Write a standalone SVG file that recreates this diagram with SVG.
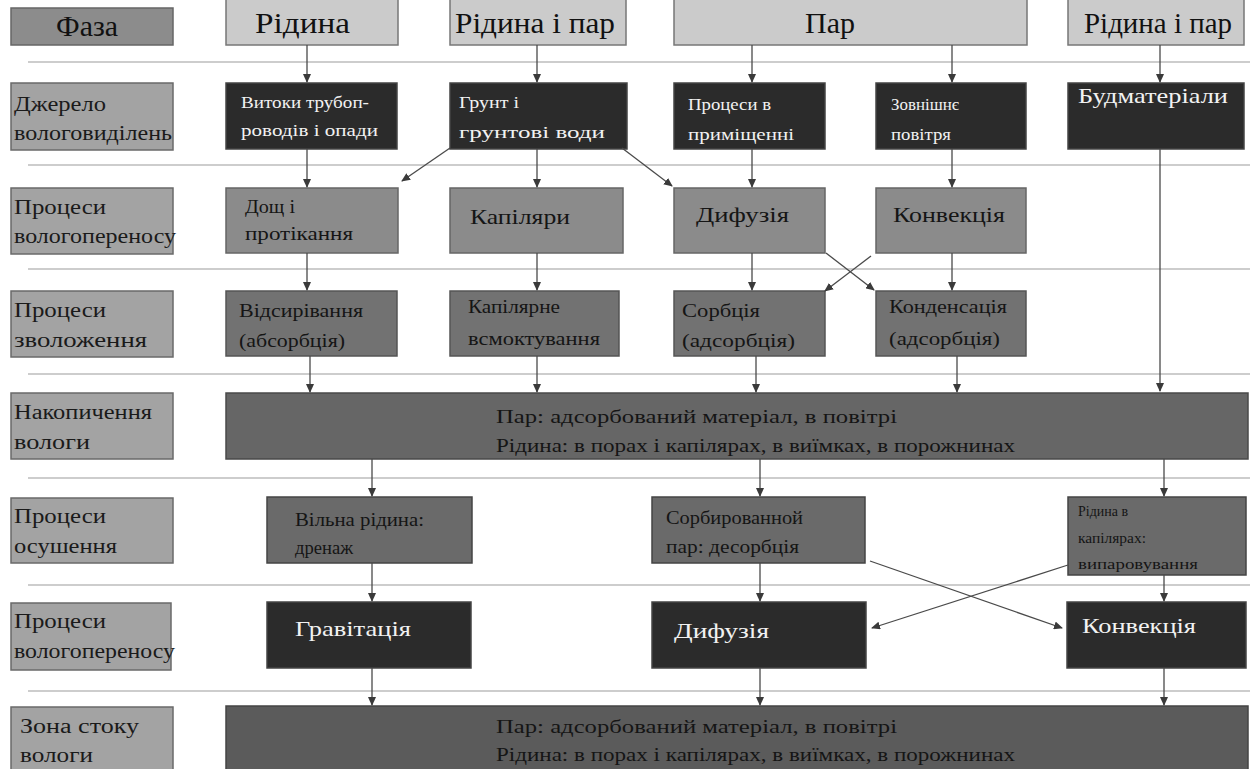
<svg xmlns="http://www.w3.org/2000/svg" width="1258" height="769" viewBox="0 0 1258 769" font-family="'Liberation Serif','Times New Roman',serif">
<defs>
<marker id="ah" markerWidth="9" markerHeight="8" refX="8" refY="4" orient="auto" markerUnits="userSpaceOnUse">
<path d="M0,0 L9,4 L0,8 Z" fill="#3a3a3a"/>
</marker>
<style>
text{font-family:"Liberation Serif","Times New Roman",serif;}
.hdr{fill:#cbcbcb;stroke:#777;stroke-width:1.5}
.phase{fill:#8c8c8c;stroke:#666;stroke-width:1.5}
.lbl{fill:#a3a3a3;stroke:#6a6a6a;stroke-width:1.5}
.blk{fill:#2b2b2b;stroke:#444;stroke-width:1.5}
.g2{fill:#8b8b8b;stroke:#666;stroke-width:1.5}
.g3{fill:#727272;stroke:#555;stroke-width:1.5}
.g4{fill:#666;stroke:#4a4a4a;stroke-width:1.5}
.g5{fill:#6a6a6a;stroke:#444;stroke-width:1.5}
.g7{fill:#5b5b5b;stroke:#444;stroke-width:1.5}
.th{font-size:30px;fill:#111}
.tl{font-size:20px;fill:#1a1a1a}
.tw{fill:#f2f2f2}
.td{fill:#151515}
.sep{stroke:#cdcdcd;stroke-width:2}
.con line{stroke:#4a4a4a;stroke-width:1.3;marker-end:url(#ah)}
</style>
</defs>
<rect width="1258" height="769" fill="#fff"/>
<g id="separators">
<line class="sep" x1="28" y1="62" x2="1250" y2="62"/>
<line class="sep" x1="28" y1="165" x2="1250" y2="165"/>
<line class="sep" x1="28" y1="269" x2="1250" y2="269"/>
<line class="sep" x1="28" y1="374" x2="1250" y2="374"/>
<line class="sep" x1="28" y1="478" x2="1250" y2="478"/>
<line class="sep" x1="28" y1="585" x2="1250" y2="585"/>
<line class="sep" x1="28" y1="691" x2="1250" y2="691"/>
</g>
<g id="h-phase"><rect class="phase" x="11" y="8" width="162" height="37"/><text class="th" x="56" y="36" textLength="62" lengthAdjust="spacingAndGlyphs">Фаза</text></g>
<g id="h-liquid"><rect class="hdr" x="226" y="-1" width="172" height="46"/><text class="th" x="255" y="33" textLength="95" lengthAdjust="spacingAndGlyphs">Рідина</text></g>
<g id="h-liqvap1"><rect class="hdr" x="450" y="-1" width="176" height="46"/><text class="th" x="455" y="33" textLength="160" lengthAdjust="spacingAndGlyphs">Рідина і пар</text></g>
<g id="h-vapour"><rect class="hdr" x="674" y="-1" width="353" height="46"/><text class="th" x="805" y="33" textLength="50" lengthAdjust="spacingAndGlyphs">Пар</text></g>
<g id="h-liqvap2"><rect class="hdr" x="1068" y="-1" width="176" height="46"/><text class="th" x="1084" y="33" textLength="148" lengthAdjust="spacingAndGlyphs">Рідина і пар</text></g>

<g id="l-source"><rect class="lbl" x="11" y="83" width="162" height="67"/><text class="tl" x="14" y="111" textLength="92" lengthAdjust="spacingAndGlyphs">Джерело</text><text class="tl" x="14" y="140" textLength="158" lengthAdjust="spacingAndGlyphs">вологовиділень</text></g>
<g id="l-transfer1"><rect class="lbl" x="11" y="188" width="162" height="66"/><text class="tl" x="14" y="214" textLength="92" lengthAdjust="spacingAndGlyphs">Процеси</text><text class="tl" x="14" y="243" textLength="162" lengthAdjust="spacingAndGlyphs">вологопереносу</text></g>
<g id="l-wetting"><rect class="lbl" x="11" y="291" width="162" height="66"/><text class="tl" x="14" y="317" textLength="92" lengthAdjust="spacingAndGlyphs">Процеси</text><text class="tl" x="14" y="347" textLength="133" lengthAdjust="spacingAndGlyphs">зволоження</text></g>
<g id="l-accum"><rect class="lbl" x="11" y="393" width="162" height="66"/><text class="tl" x="14" y="419" textLength="138" lengthAdjust="spacingAndGlyphs">Накопичення</text><text class="tl" x="14" y="449" textLength="76" lengthAdjust="spacingAndGlyphs">вологи</text></g>
<g id="l-drying"><rect class="lbl" x="11" y="498" width="162" height="65"/><text class="tl" x="14" y="523" textLength="92" lengthAdjust="spacingAndGlyphs">Процеси</text><text class="tl" x="14" y="553" textLength="103" lengthAdjust="spacingAndGlyphs">осушення</text></g>
<g id="l-transfer2"><rect class="lbl" x="11" y="603" width="160" height="67"/><text class="tl" x="14" y="628" textLength="92" lengthAdjust="spacingAndGlyphs">Процеси</text><text class="tl" x="14" y="658" textLength="161" lengthAdjust="spacingAndGlyphs">вологопереносу</text></g>
<g id="l-sink"><rect class="lbl" x="11" y="707" width="162" height="70"/><text class="tl" x="20" y="733" textLength="119" lengthAdjust="spacingAndGlyphs">Зона стоку</text><text class="tl" x="20" y="762" textLength="73" lengthAdjust="spacingAndGlyphs">вологи</text></g>

<g id="n-leaks"><rect class="blk" x="226" y="83" width="171" height="66"/><text class="tw" font-size="17" x="241" y="108" textLength="128" lengthAdjust="spacingAndGlyphs">Витоки трубоп-</text><text class="tw" font-size="17" x="241" y="136" textLength="137" lengthAdjust="spacingAndGlyphs">роводів і опади</text></g>
<g id="n-ground"><rect class="blk" x="450" y="83" width="177" height="66"/><text class="tw" font-size="17" x="459" y="108" textLength="60" lengthAdjust="spacingAndGlyphs">Грунт і</text><text class="tw" font-size="17" x="459" y="138" textLength="146" lengthAdjust="spacingAndGlyphs">грунтові води</text></g>
<g id="n-indoor"><rect class="blk" x="674" y="83" width="151" height="66"/><text class="tw" font-size="17" x="688" y="110" textLength="83" lengthAdjust="spacingAndGlyphs">Процеси в</text><text class="tw" font-size="17" x="688" y="140" textLength="106" lengthAdjust="spacingAndGlyphs">приміщенні</text></g>
<g id="n-outdoor"><rect class="blk" x="876" y="83" width="150" height="66"/><text class="tw" font-size="17" x="891" y="110" textLength="68" lengthAdjust="spacingAndGlyphs">Зовнішнє</text><text class="tw" font-size="17" x="891" y="140" textLength="60" lengthAdjust="spacingAndGlyphs">повітря</text></g>
<g id="n-materials"><rect class="blk" x="1068" y="83" width="176" height="66"/><text class="tw" font-size="21" x="1078" y="103" textLength="150" lengthAdjust="spacingAndGlyphs">Будматеріали</text></g>

<g id="n-rain"><rect class="g2" x="226" y="188" width="172" height="65"/><text class="td" font-size="19" x="245" y="213" textLength="50" lengthAdjust="spacingAndGlyphs">Дощ і</text><text class="td" font-size="19" x="245" y="240" textLength="108" lengthAdjust="spacingAndGlyphs">протікання</text></g>
<g id="n-capillaries"><rect class="g2" x="450" y="188" width="173" height="65"/><text class="td" font-size="22" x="470" y="224" textLength="100" lengthAdjust="spacingAndGlyphs">Капіляри</text></g>
<g id="n-diffusion1"><rect class="g2" x="674" y="188" width="151" height="65"/><text class="td" font-size="22" x="696" y="222" textLength="93" lengthAdjust="spacingAndGlyphs">Дифузія</text></g>
<g id="n-convection1"><rect class="g2" x="876" y="188" width="150" height="65"/><text class="td" font-size="22" x="893" y="222" textLength="112" lengthAdjust="spacingAndGlyphs">Конвекція</text></g>

<g id="n-absorption"><rect class="g3" x="226" y="291" width="171" height="65"/><text class="td" font-size="18" x="239" y="317" textLength="124" lengthAdjust="spacingAndGlyphs">Відсирівання</text><text class="td" font-size="18" x="239" y="347" textLength="106" lengthAdjust="spacingAndGlyphs">(абсорбція)</text></g>
<g id="n-suction"><rect class="g3" x="450" y="291" width="169" height="65"/><text class="td" font-size="18" x="468" y="313" textLength="92" lengthAdjust="spacingAndGlyphs">Капілярне</text><text class="td" font-size="18" x="468" y="345" textLength="132" lengthAdjust="spacingAndGlyphs">всмоктування</text></g>
<g id="n-sorption"><rect class="g3" x="674" y="291" width="151" height="65"/><text class="td" font-size="18" x="682" y="317" textLength="78" lengthAdjust="spacingAndGlyphs">Сорбція</text><text class="td" font-size="18" x="682" y="347" textLength="113" lengthAdjust="spacingAndGlyphs">(адсорбція)</text></g>
<g id="n-condensation"><rect class="g3" x="876" y="291" width="150" height="65"/><text class="td" font-size="18" x="889" y="313" textLength="118" lengthAdjust="spacingAndGlyphs">Конденсація</text><text class="td" font-size="18" x="889" y="345" textLength="111" lengthAdjust="spacingAndGlyphs">(адсорбція)</text></g>

<g id="n-accumulation"><rect class="g4" x="226" y="393" width="1022" height="66"/><text class="td" font-size="18" x="496" y="423" textLength="401" lengthAdjust="spacingAndGlyphs">Пар: адсорбований матеріал, в повітрі</text><text class="td" font-size="18" x="496" y="452" textLength="519" lengthAdjust="spacingAndGlyphs">Рідина: в порах і капілярах, в виїмках, в порожнинах</text></g>

<g id="n-drainage"><rect class="g5" x="267" y="497" width="205" height="66"/><text class="td" font-size="18" x="295" y="526" textLength="129" lengthAdjust="spacingAndGlyphs">Вільна рідина:</text><text class="td" font-size="18" x="295" y="554" textLength="58" lengthAdjust="spacingAndGlyphs">дренаж</text></g>
<g id="n-desorption"><rect class="g5" x="652" y="497" width="213" height="66"/><text class="td" font-size="18" x="666" y="524" textLength="137" lengthAdjust="spacingAndGlyphs">Сорбированной</text><text class="td" font-size="18" x="666" y="553" textLength="133" lengthAdjust="spacingAndGlyphs">пар: десорбція</text></g>
<g id="n-evaporation"><rect class="g5" x="1068" y="497" width="178" height="78"/><text class="td" font-size="14" x="1078" y="516" textLength="50" lengthAdjust="spacingAndGlyphs">Рідина в</text><text class="td" font-size="14" x="1078" y="543" textLength="68" lengthAdjust="spacingAndGlyphs">капілярах:</text><text class="td" font-size="14" x="1078" y="569" textLength="120" lengthAdjust="spacingAndGlyphs">випаровування</text></g>

<g id="n-gravity"><rect class="blk" x="267" y="602" width="204" height="66"/><text class="tw" font-size="22" x="295" y="636" textLength="116" lengthAdjust="spacingAndGlyphs">Гравітація</text></g>
<g id="n-diffusion2"><rect class="blk" x="652" y="602" width="214" height="66"/><text class="tw" font-size="22" x="674" y="638" textLength="95" lengthAdjust="spacingAndGlyphs">Дифузія</text></g>
<g id="n-convection2"><rect class="blk" x="1067" y="602" width="179" height="66"/><text class="tw" font-size="22" x="1082" y="633" textLength="114" lengthAdjust="spacingAndGlyphs">Конвекція</text></g>

<g id="n-sink"><rect class="g7" x="226" y="706" width="1022" height="70"/><text class="td" font-size="18" x="496" y="733" textLength="401" lengthAdjust="spacingAndGlyphs">Пар: адсорбований матеріал, в повітрі</text><text class="td" font-size="18" x="496" y="761" textLength="519" lengthAdjust="spacingAndGlyphs">Рідина: в порах і капілярах, в виїмках, в порожнинах</text></g>

<g id="connectors" class="con">
<line x1="307" y1="45" x2="307" y2="82"/>
<line x1="537" y1="45" x2="537" y2="82"/>
<line x1="752" y1="45" x2="752" y2="82"/>
<line x1="952" y1="45" x2="952" y2="82"/>
<line x1="1160" y1="45" x2="1160" y2="82"/>
<line x1="307" y1="149" x2="307" y2="187"/>
<line x1="450" y1="148" x2="402" y2="181"/>
<line x1="537" y1="149" x2="537" y2="187"/>
<line x1="622" y1="148" x2="672" y2="186"/>
<line x1="752" y1="149" x2="752" y2="187"/>
<line x1="952" y1="149" x2="952" y2="187"/>
<line x1="1160" y1="149" x2="1160" y2="391"/>
<line x1="307" y1="253" x2="307" y2="290"/>
<line x1="537" y1="253" x2="537" y2="290"/>
<line x1="752" y1="253" x2="752" y2="290"/>
<line x1="952" y1="253" x2="952" y2="290"/>
<line x1="826" y1="253" x2="874" y2="290"/>
<line x1="871" y1="256" x2="825" y2="291"/>
<line x1="310" y1="356" x2="310" y2="392"/>
<line x1="537" y1="356" x2="537" y2="392"/>
<line x1="756" y1="356" x2="756" y2="392"/>
<line x1="957" y1="356" x2="957" y2="392"/>
<line x1="372" y1="459" x2="372" y2="496"/>
<line x1="760" y1="459" x2="760" y2="496"/>
<line x1="1164" y1="459" x2="1164" y2="496"/>
<line x1="372" y1="563" x2="372" y2="601"/>
<line x1="760" y1="563" x2="760" y2="601"/>
<line x1="1164" y1="575" x2="1164" y2="601"/>
<line x1="870" y1="561" x2="1062" y2="628"/>
<line x1="1068" y1="565" x2="872" y2="628"/>
<line x1="372" y1="668" x2="372" y2="705"/>
<line x1="760" y1="668" x2="760" y2="705"/>
<line x1="1164" y1="668" x2="1164" y2="705"/>
</g>
</svg>
